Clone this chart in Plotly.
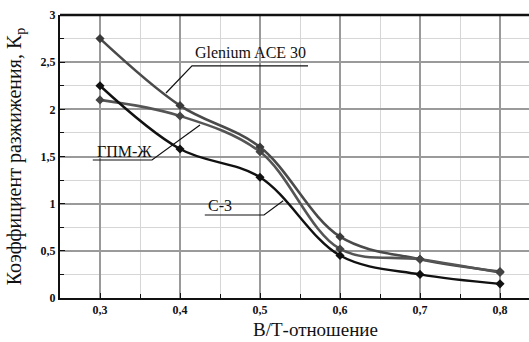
import plotly.graph_objects as go

wc = [0.3, 0.4, 0.5, 0.6, 0.7, 0.8]
glenium = [2.75, 2.04, 1.60, 0.65, 0.41, 0.28]
gpm = [2.10, 1.93, 1.55, 0.52, 0.41, 0.27]
c3 = [2.25, 1.58, 1.28, 0.45, 0.25, 0.15]

x_ticks = [0.3, 0.4, 0.5, 0.6, 0.7, 0.8]
y_ticks = [0, 0.5, 1, 1.5, 2, 2.5, 3]

SERIF = "Liberation Serif"

fig = go.Figure()
fig.add_trace(go.Scatter(x=wc, y=glenium, mode="lines+markers", name="Glenium ACE 30",
                         line=dict(color="#4a4a4a", width=2.6, shape="spline", smoothing=1),
                         marker=dict(size=7, color="#3a3a3a", symbol="diamond")))
fig.add_trace(go.Scatter(x=wc, y=gpm, mode="lines+markers", name="ГПМ-Ж",
                         line=dict(color="#555555", width=2.6, shape="spline", smoothing=1),
                         marker=dict(size=7, color="#444444", symbol="diamond")))
fig.add_trace(go.Scatter(x=wc, y=c3, mode="lines+markers", name="С-3",
                         line=dict(color="#111111", width=2.4, shape="spline", smoothing=1),
                         marker=dict(size=7, color="#111111", symbol="diamond")))

callouts = [
    ("Glenium ACE 30", [(0.56, 2.46), (0.415, 2.46), (0.3825, 2.173)], 0.4875, 2.60),
    ("ГПМ-Ж", [(0.291, 1.463), (0.365, 1.463), (0.425, 1.834)], 0.33, 1.55),
    ("С-3", [(0.431, 0.88), (0.505, 0.88), (0.529, 1.031)], 0.45, 0.98),
]
for text, pts, tx, ty in callouts:
    fig.add_trace(go.Scatter(x=[p[0] for p in pts], y=[p[1] for p in pts], mode="lines",
                             line=dict(color="#111", width=1.2), showlegend=False, hoverinfo="skip"))
    fig.add_annotation(x=tx, y=ty, text=text, showarrow=False,
                       font=dict(family=SERIF, size=16, color="#111"),
                       xanchor="center", yanchor="middle")

# x-axis title (placed slightly right of centre as in the reference)
fig.add_annotation(xref="paper", yref="paper", x=0.544, y=-0.113, text="В/Т-отношение",
                   showarrow=False, font=dict(family=SERIF, size=19, color="#111"),
                   xanchor="center", yanchor="middle")

fig.add_shape(type="line", xref="paper", yref="paper", x0=0, x1=1, y0=1, y1=1,
              line=dict(color="#111", width=2.5))

fig.update_layout(
    width=529, height=342,
    margin=dict(l=60, r=0, t=15, b=44),
    paper_bgcolor="white", plot_bgcolor="white",
    showlegend=False,
    separators=", ",
)
fig.update_xaxes(
    range=[0.25, 0.25 + 469 / 800], tickvals=x_ticks, ticktext=["0,3", "0,4", "0,5", "0,6", "0,7", "0,8"],
    showgrid=True, gridcolor="#9a9a9a", gridwidth=1.5,
    minor=dict(dtick=0.05, tick0=0.25, showgrid=True, gridcolor="#d6d6d6", gridwidth=1,
               ticks="inside", ticklen=4, tickcolor="#111"),
    ticks="inside", ticklen=5, tickcolor="#111",
    showline=True, linecolor="#111", linewidth=2,
    tickfont=dict(family=SERIF, size=12, color="#111", weight="bold"),
    zeroline=False,
)
fig.update_yaxes(
    range=[0, 3], tickvals=y_ticks, ticktext=["0", "0,5", "1", "1,5", "2", "2,5", "3"],
    showgrid=True, gridcolor="#9a9a9a", gridwidth=1.5,
    minor=dict(dtick=0.25, showgrid=True, gridcolor="#d6d6d6", gridwidth=1,
               ticks="inside", ticklen=4, tickcolor="#111"),
    ticks="inside", ticklen=5, tickcolor="#111",
    showline=True, linecolor="#111", linewidth=2,
    tickfont=dict(family=SERIF, size=12, color="#111", weight="bold"),
    title=dict(text="Коэффициент разжижения, K<sub>р</sub>",
               font=dict(family=SERIF, size=20, color="#111"), standoff=14),
    zeroline=False,
)

fig.write_html("out.html")
